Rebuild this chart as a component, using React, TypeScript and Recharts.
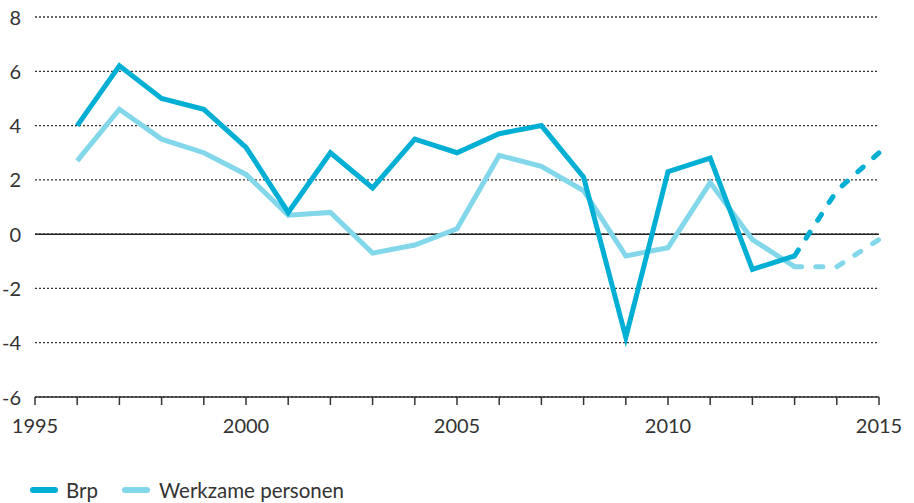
import React from 'react';
import { LineChart, Line, XAxis, YAxis, CartesianGrid, ReferenceLine } from 'recharts';

const years = [1996, 1997, 1998, 1999, 2000, 2001, 2002, 2003, 2004, 2005, 2006, 2007, 2008, 2009, 2010, 2011, 2012, 2013, 2014, 2015];
const brp = [4.0, 6.2, 5.0, 4.6, 3.2, 0.8, 3.0, 1.7, 3.5, 3.0, 3.7, 4.0, 2.1, -3.8, 2.3, 2.8, -1.3, -0.8, 1.6, 3.0];
const werkzame = [2.7, 4.6, 3.5, 3.0, 2.2, 0.7, 0.8, -0.7, -0.4, 0.2, 2.9, 2.5, 1.6, -0.8, -0.5, 1.9, -0.2, -1.2, -1.2, -0.2];
const lastActual = 2013;
const xTicks = [1995, 1996, 1997, 1998, 1999, 2000, 2001, 2002, 2003, 2004, 2005, 2006, 2007, 2008, 2009, 2010, 2011, 2012, 2013, 2014, 2015];
const yTicks = [-6, -4, -2, 0, 2, 4, 6, 8];

const BRP_COLOR = '#00AFD3';
const WERK_COLOR = '#82D7EA';
const FONT = 'Lato, "Noto Sans", sans-serif';

const data = years.map((y, i) => ({
  year: y,
  brp: y <= lastActual ? brp[i] : null,
  brpF: y >= lastActual ? brp[i] : null,
  werk: y <= lastActual ? werkzame[i] : null,
  werkF: y >= lastActual ? werkzame[i] : null,
}));

const XTick = (props: any) => {
  const { x, y, payload } = props;
  const v = payload.value;
  return (
    <g>
      <line x1={x} x2={x} y1={y - 8} y2={y} stroke="#333" strokeWidth={1.5} />
      {v % 5 === 0 && (
        <text x={x} y={y + 28} textAnchor="middle" fontSize={20} fill="#333" fontFamily={FONT}>
          {v}
        </text>
      )}
    </g>
  );
};

const YTick = (props: any) => {
  const { y, payload } = props;
  return (
    <text x={21} y={y + 7.5} textAnchor="end" fontSize={20} fill="#333" fontFamily={FONT}>
      {payload.value}
    </text>
  );
};

export default function App() {
  return (
    <div style={{ position: 'absolute', left: 0, top: 0, width: 914, height: 503, background: '#fff' }}>
      <LineChart width={914} height={503} data={data} margin={{ top: 17, right: 35, bottom: 0, left: 0 }}>
        <CartesianGrid
          vertical={false}
          stroke="#333"
          strokeDasharray="2 2"
          strokeWidth={1.3}
        />
        <XAxis
          dataKey="year"
          type="number"
          domain={[1995, 2015]}
          ticks={xTicks}
          interval={0}
          height={106}
          tickSize={8}
          tickMargin={0}
          tickLine={false}
          axisLine={{ stroke: '#333', strokeWidth: 1.5 }}
          tick={<XTick />}
        />
        <YAxis
          domain={[-6, 8]}
          ticks={yTicks}
          width={35}
          axisLine={false}
          tickLine={false}
          interval={0}
          tick={<YTick />}
        />
        <ReferenceLine y={0} stroke="#222" strokeWidth={1.5} />
        <Line dataKey="werk" stroke={WERK_COLOR} strokeWidth={5} dot={false} isAnimationActive={false} strokeLinejoin="miter" strokeLinecap="butt" />
        <Line dataKey="werkF" stroke={WERK_COLOR} strokeWidth={5} dot={false} isAnimationActive={false} strokeDasharray="7 14.2" strokeLinecap="round" strokeLinejoin="round" />
        <Line dataKey="brp" stroke={BRP_COLOR} strokeWidth={5} dot={false} isAnimationActive={false} strokeLinejoin="miter" strokeLinecap="butt" />
        <Line dataKey="brpF" stroke={BRP_COLOR} strokeWidth={5} dot={false} isAnimationActive={false} strokeDasharray="7 14.2" strokeLinecap="round" strokeLinejoin="round" />
      </LineChart>
      <div style={{ position: 'absolute', left: 30, top: 478, display: 'flex', alignItems: 'center', fontFamily: FONT, fontSize: 20.5, color: '#333', whiteSpace: 'nowrap' }}>
        <svg width={28} height={8} style={{ marginRight: 8 }}>
          <line x1={3} x2={25} y1={4} y2={4} stroke={BRP_COLOR} strokeWidth={6} strokeLinecap="round" />
        </svg>
        <span style={{ marginRight: 24 }}>Brp</span>
        <svg width={28} height={8} style={{ marginRight: 9 }}>
          <line x1={3} x2={25} y1={4} y2={4} stroke={WERK_COLOR} strokeWidth={6} strokeLinecap="round" />
        </svg>
        <span>Werkzame personen</span>
      </div>
    </div>
  );
}
